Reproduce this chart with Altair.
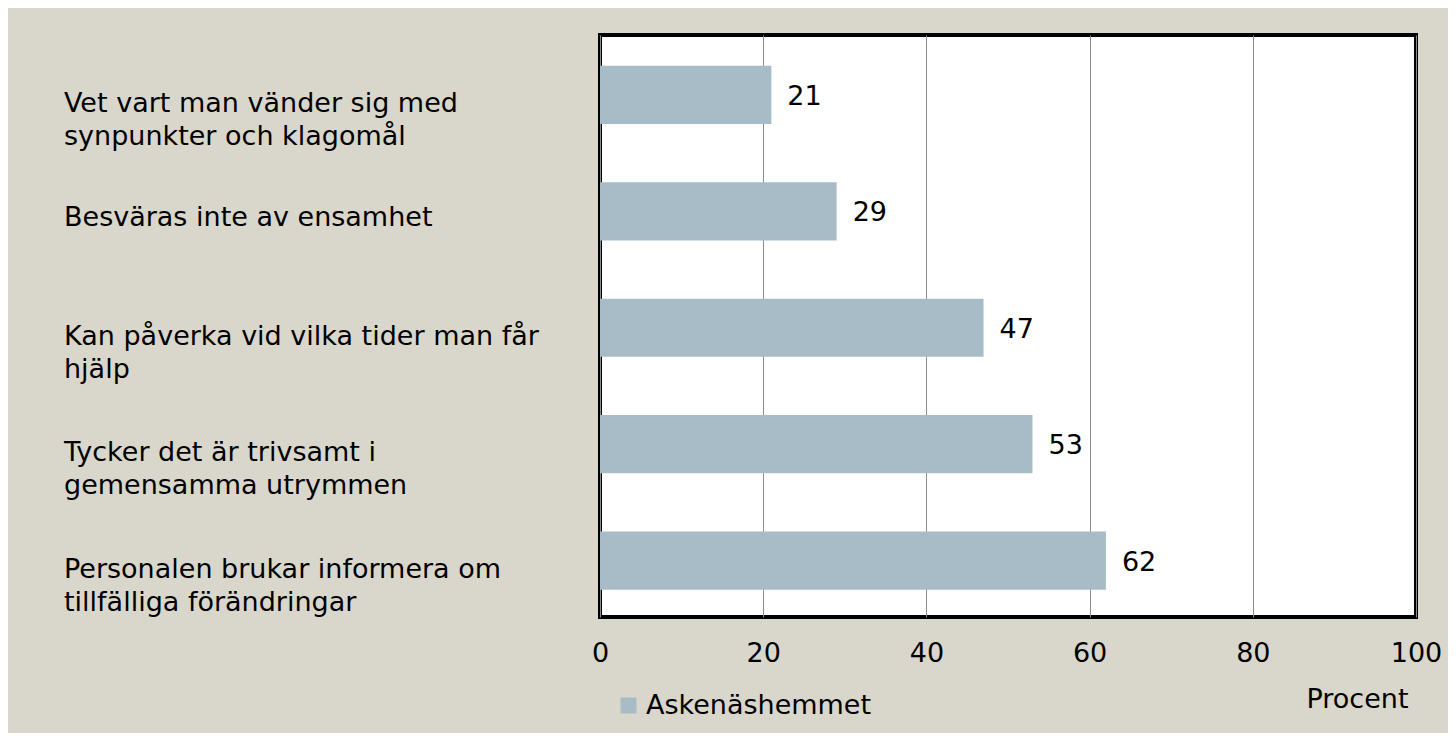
import altair as alt
import pandas as pd

categories = [
    "Vet vart man vänder sig med\nsynpunkter och klagomål",
    "Besväras inte av ensamhet",
    "Kan påverka vid vilka tider man får\nhjälp",
    "Tycker det är trivsamt i\ngemensamma utrymmen",
    "Personalen brukar informera om\ntillfälliga förändringar",
]
values = [21, 29, 47, 53, 62]
series_name = "Askenäshemmet"
x_ticks = [0, 20, 40, 60, 80, 100]

df = pd.DataFrame({
    "cat": categories,
    "value": values,
    "series": [series_name] * len(values),
    "lines": [c.count("\n") + 1 for c in categories],
})

FONT = "DejaVu Sans"
FS = 27
BAR = "#A7BCC7"
BG = "#D9D7CB"

yenc = alt.Y("cat:N", sort=categories, axis=None,
             scale=alt.Scale(paddingInner=0.5, paddingOuter=0.25, align=0.53))

base = alt.Chart(df)

bars = base.mark_bar().encode(
    x=alt.X("value:Q",
            scale=alt.Scale(domain=[0, 100], nice=False),
            axis=alt.Axis(values=x_ticks, grid=True, gridColor="#8C8C8C", gridWidth=1,
                          ticks=False, domain=False, labelFontSize=FS, labelFont=FONT,
                          labelColor="#000000", labelPadding=23, labelFlush=False,
                          labelOverlap=False,
                          title="Procent", titleFont=FONT, titleFontSize=FS,
                          titleFontWeight="normal", titleColor="#000000",
                          titleAnchor="end", titleAlign="right", titleBaseline="alphabetic",
                          titleX=808, titleY=90)),
    y=yenc,
    color=alt.Color("series:N", scale=alt.Scale(domain=[series_name], range=[BAR]),
                    legend=alt.Legend(title=None, orient="none", legendX=15, legendY=657,
                                      symbolType="square", symbolSize=256,
                                      symbolStrokeWidth=0, labelFont=FONT,
                                      labelFontSize=FS, labelColor="#000000",
                                      labelOffset=4, labelLimit=500, padding=0)),
)

value_labels = base.mark_text(align="left", baseline="middle", dx=16, dy=2,
                              font=FONT, fontSize=FS, color="#000000").encode(
    x="value:Q", y=yenc, text="value:Q")

cat_two = base.transform_filter("datum.lines > 1").mark_text(
    align="left", baseline="alphabetic", dy=17, lineBreak="\n", lineHeight=33,
    font=FONT, fontSize=FS, color="#000000").encode(
    x=alt.value(-536), y=yenc, text="cat:N")

cat_one = base.transform_filter("datum.lines == 1").mark_text(
    align="left", baseline="alphabetic", dy=15,
    font=FONT, fontSize=FS, color="#000000").encode(
    x=alt.value(-536), y=yenc, text="cat:N")

chart = alt.layer(bars, value_labels, cat_two, cat_one).properties(
    width=816, height=582,
    background=BG,
    autosize=alt.AutoSizeParams(type="none"),
    padding={"left": 592, "top": 27, "right": 32, "bottom": 116},
).configure_view(stroke="#000000", strokeWidth=4, fill="#FFFFFF")

chart.save("out.html", embed_options={"renderer": "svg", "actions": False})
